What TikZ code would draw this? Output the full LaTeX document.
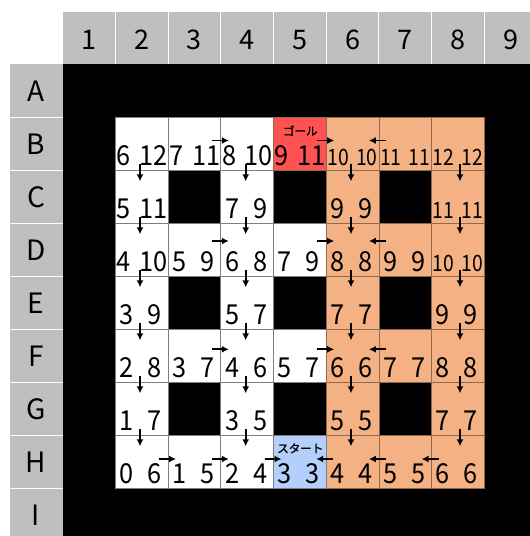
\documentclass[tikz,border=0pt]{standalone}
\usepackage{fontspec}
\setmainfont{Noto Sans CJK JP}
\newfontfamily\jpbold{Noto Sans CJK JP}[FakeBold=1.5]
\newfontfamily\numfont{Noto Sans CJK JP}[FakeStretch=0.92]
\newfontfamily\numfontsmall{Noto Sans CJK JP}[FakeStretch=0.86]
\usetikzlibrary{arrows.meta}
\definecolor{hdrgray}{HTML}{BFBFBF}
\definecolor{goalred}{HTML}{FF5252}
\definecolor{startblue}{HTML}{B4CFFC}
\definecolor{pathorange}{HTML}{F4B183}
\definecolor{cellline}{HTML}{7F7F7F}
\definecolor{orangeline}{HTML}{8F6A50}
\tikzset{
  hdrtext/.style={font=\fontsize{27}{27}\selectfont, inner sep=0},
  rowtext/.style={font=\fontsize{28}{28}\selectfont, inner sep=0},
  cellbox/.style={draw=cellline, line width=0.8pt, minimum width=52.7pt, minimum height=53pt, inner sep=0, outer sep=0},
  numtext/.style={font=\numfont\fontsize{27.5}{27.5}\selectfont, inner sep=0},
  smalltext/.style={font=\numfontsmall\fontsize{22.5}{22.5}\selectfont, inner sep=0},
  arr/.style={-{Latex[length=7pt,width=7pt]}, line width=1.7pt},
  jplabel/.style={font=\jpbold\fontsize{11.5}{11.5}\selectfont, inner sep=0},
}
\begin{document}
\begin{tikzpicture}[x=1pt,y=-1pt]
\useasboundingbox (0,0) rectangle (530,536);
% header bands
\fill[hdrgray] (62.7,12.3) rectangle (530,64.3);
\fill[hdrgray] (10,64.3) rectangle (62.7,536);
\fill[black] (62.7,64.3) rectangle (530,536);
\foreach \k in {1,...,8} {
  \draw[white, line width=1pt] ({62.7+\k*52.7},12.3) -- ({62.7+\k*52.7},64.3);
  \draw[white, line width=1pt] (10,{64.3+\k*53}) -- (62.7,{64.3+\k*53});
}
\foreach \i in {1,...,9}
  \node[hdrtext, anchor=base] (col\i) at ({62.7+(\i-0.5)*52.7},49) {\i};
\foreach \r/\ri in {A/1,B/2,C/3,D/4,E/5,F/6,G/7,H/8,I/9}
  \node[rowtext, anchor=base] (row\r) at (36,{64.3+(\ri-1)*53+37.4}) {\r};
% cells
\foreach \r/\ri/\c in {B/2/2,B/2/3,B/2/4,C/3/2,C/3/4,D/4/2,D/4/3,D/4/4,D/4/5,E/5/2,E/5/4,F/6/2,F/6/3,F/6/4,F/6/5,G/7/2,G/7/4,H/8/2,H/8/3,H/8/4}
  \node[cellbox, fill=white] (\r\c) at ({62.7+(\c-0.5)*52.7},{64.3+(\ri-0.5)*53}) {};
\foreach \r/\ri/\c in {B/2/6,B/2/7,B/2/8,C/3/6,C/3/8,D/4/6,D/4/7,D/4/8,E/5/6,E/5/8,F/6/6,F/6/7,F/6/8,G/7/6,G/7/8,H/8/6,H/8/7,H/8/8}
  \node[cellbox, fill=pathorange, draw=orangeline] (\r\c) at ({62.7+(\c-0.5)*52.7},{64.3+(\ri-0.5)*53}) {};
\node[cellbox, fill=goalred, draw=orangeline] (B5) at ({62.7+4.5*52.7},{64.3+1.5*53}) {};
\node[cellbox, fill=startblue] (H5) at ({62.7+4.5*52.7},{64.3+7.5*53}) {};
% labels
\node[jplabel] (goal) at (300.3,130.7) {ゴール};
\node[jplabel] (start) at (300.3,448.3) {スタート};
% numbers: single digit + two digits
\foreach \n/\a/\b in {B2/6/12,B3/7/11,B4/8/10,B5/9/11,C2/5/11,D2/4/10} {
  \node[numtext, anchor=base west] (\n-l) at ([xshift=1pt,yshift=4.5pt]\n.south west) {\a};
  \node[numtext, anchor=base east] (\n-r) at ([xshift=-0.5pt,yshift=4.5pt]\n.south east) {\b};
}
% numbers: two single digits
\foreach \n/\a/\b in {C4/7/9,C6/9/9,D3/5/9,D4/6/8,D5/7/9,D6/8/8,D7/9/9,E2/3/9,E4/5/7,E6/7/7,E8/9/9,F2/2/8,F3/3/7,F4/4/6,F5/5/7,F6/6/6,F7/7/7,F8/8/8,G2/1/7,G4/3/5,G6/5/5,G8/7/7,H2/0/6,H3/1/5,H4/2/4,H5/3/3,H6/4/4,H7/5/5,H8/6/6} {
  \node[numtext, anchor=base] (\n-l) at ([xshift=-15pt,yshift=4.5pt]\n.south) {\a};
  \node[numtext, anchor=base] (\n-r) at ([xshift=13pt,yshift=4.5pt]\n.south) {\b};
}
% numbers: shrunk two-digit pairs
\foreach \n/\a/\b in {B6/10/10,B7/11/11,B8/12/12,C8/11/11,D8/10/10} {
  \node[smalltext, anchor=base west] (\n-l) at ([xshift=1pt,yshift=5pt]\n.south west) {\a};
  \node[smalltext, anchor=base east] (\n-r) at ([xshift=-1pt,yshift=5pt]\n.south east) {\b};
}
% arrow guide coordinates
\coordinate (x2) at (140,0);
\coordinate (x4) at (245.7,0);
\coordinate (x6) at (351,0);
\coordinate (x8) at (460,0);
\coordinate (yB) at (0,140.5);
\coordinate (yD) at (0,241);
\coordinate (yF) at (0,349.3);
\coordinate (yH) at (0,459);
% down arrows
\foreach \r/\c in {B/2,B/4,B/6,B/8,C/2,C/4,C/6,C/8,D/2,D/4,D/6,D/8,E/2,E/4,E/6,E/8,F/2,F/4,F/6,F/8,G/2,G/4,G/6,G/8} {
  \path (x\c |- \r\c.south) coordinate (p);
  \draw[arr] ([yshift=6pt]p) -- ([yshift=-11pt]p);
}
% right arrows
\foreach \r/\c in {B/4,B/6,D/4,D/6,F/4,F/6,H/3,H/4,H/5} {
  \path (\r\c.west |- y\r) coordinate (p);
  \draw[arr] ([xshift=-9pt]p) -- ([xshift=8pt]p);
}
% left arrows
\foreach \r/\c in {B/6,D/6,F/6,H/5,H/6,H/7} {
  \path (\r\c.east |- y\r) coordinate (p);
  \draw[arr] ([xshift=7pt]p) -- ([xshift=-10pt]p);
}
\end{tikzpicture}
\end{document}
